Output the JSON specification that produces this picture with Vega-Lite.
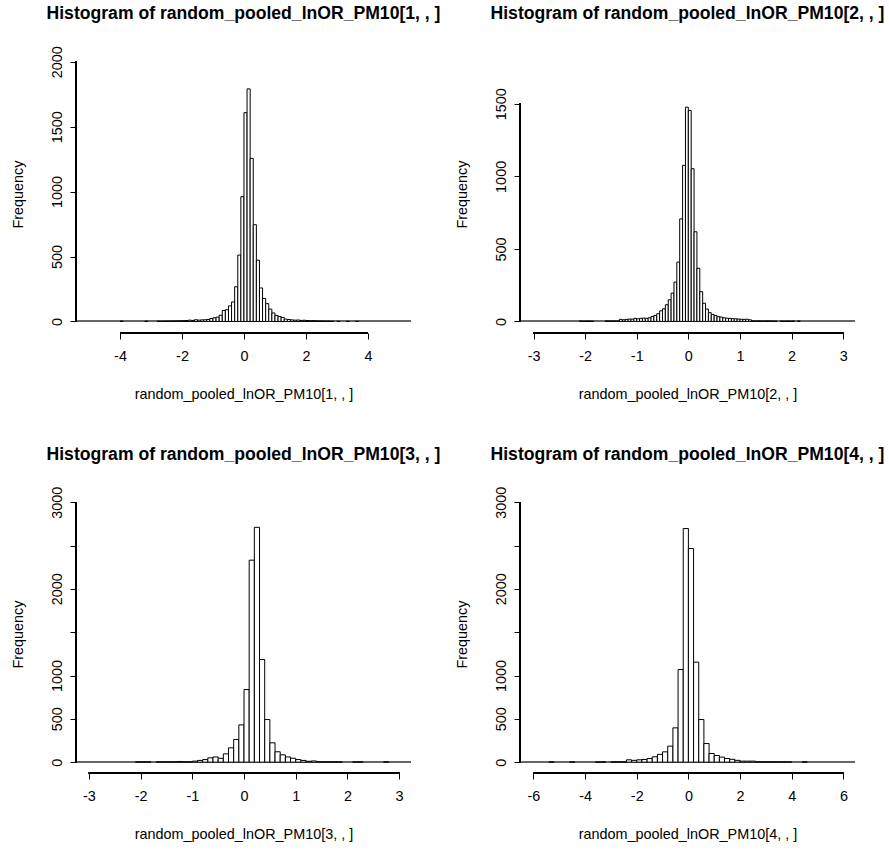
{
  "$schema": "https://vega.github.io/schema/vega-lite/v6.json",
  "background": "white",
  "padding": {"left": 10, "top": 4, "right": 2, "bottom": 5},
  "config": {
    "font": "Liberation Sans",
    "view": {"stroke": null},
    "axis": {"labelFont": "Liberation Sans", "labelFontSize": 14.4, "labelColor": "#000", "titleFont": "Liberation Sans", "titleFontSize": 14.4, "titleFontWeight": "normal", "titleColor": "#000", "tickColor": "#000", "tickSize": 6, "tickWidth": 1, "domain": false, "grid": false, "labelFlush": false, "labelOverlap": false},
    "title": {"font": "Liberation Sans", "fontSize": 17.6, "fontWeight": "bold", "color": "#000", "anchor": "middle", "frame": "group"}
  },
  "datasets": {
    "p1": [
      {"x0": -4.0, "x1": -3.9, "count": 2},
      {"x0": -3.2, "x1": -3.1, "count": 2},
      {"x0": -2.8, "x1": -2.7, "count": 2},
      {"x0": -2.7, "x1": -2.6, "count": 1},
      {"x0": -2.6, "x1": -2.5, "count": 2},
      {"x0": -2.5, "x1": -2.4, "count": 2},
      {"x0": -2.4, "x1": -2.3, "count": 3},
      {"x0": -2.3, "x1": -2.2, "count": 3},
      {"x0": -2.2, "x1": -2.1, "count": 4},
      {"x0": -2.1, "x1": -2.0, "count": 5},
      {"x0": -2.0, "x1": -1.9, "count": 5},
      {"x0": -1.9, "x1": -1.8, "count": 7},
      {"x0": -1.8, "x1": -1.7, "count": 10},
      {"x0": -1.7, "x1": -1.6, "count": 8},
      {"x0": -1.6, "x1": -1.5, "count": 13},
      {"x0": -1.5, "x1": -1.4, "count": 10},
      {"x0": -1.4, "x1": -1.3, "count": 12},
      {"x0": -1.3, "x1": -1.2, "count": 13},
      {"x0": -1.2, "x1": -1.1, "count": 15},
      {"x0": -1.1, "x1": -1.0, "count": 23},
      {"x0": -1.0, "x1": -0.9, "count": 28},
      {"x0": -0.9, "x1": -0.8, "count": 33},
      {"x0": -0.8, "x1": -0.7, "count": 48},
      {"x0": -0.7, "x1": -0.6, "count": 85},
      {"x0": -0.6, "x1": -0.5, "count": 90},
      {"x0": -0.5, "x1": -0.4, "count": 120},
      {"x0": -0.4, "x1": -0.3, "count": 150},
      {"x0": -0.3, "x1": -0.2, "count": 267},
      {"x0": -0.2, "x1": -0.1, "count": 511},
      {"x0": -0.1, "x1": 0.0, "count": 961},
      {"x0": 0.0, "x1": 0.1, "count": 1608},
      {"x0": 0.1, "x1": 0.2, "count": 1791},
      {"x0": 0.2, "x1": 0.3, "count": 1256},
      {"x0": 0.3, "x1": 0.4, "count": 745},
      {"x0": 0.4, "x1": 0.5, "count": 472},
      {"x0": 0.5, "x1": 0.6, "count": 258},
      {"x0": 0.6, "x1": 0.7, "count": 177},
      {"x0": 0.7, "x1": 0.8, "count": 137},
      {"x0": 0.8, "x1": 0.9, "count": 95},
      {"x0": 0.9, "x1": 1.0, "count": 65},
      {"x0": 1.0, "x1": 1.1, "count": 46},
      {"x0": 1.1, "x1": 1.2, "count": 38},
      {"x0": 1.2, "x1": 1.3, "count": 31},
      {"x0": 1.3, "x1": 1.4, "count": 18},
      {"x0": 1.4, "x1": 1.5, "count": 15},
      {"x0": 1.5, "x1": 1.6, "count": 12},
      {"x0": 1.6, "x1": 1.7, "count": 10},
      {"x0": 1.7, "x1": 1.8, "count": 11},
      {"x0": 1.8, "x1": 1.9, "count": 8},
      {"x0": 1.9, "x1": 2.0, "count": 9},
      {"x0": 2.0, "x1": 2.1, "count": 7},
      {"x0": 2.1, "x1": 2.2, "count": 5},
      {"x0": 2.2, "x1": 2.3, "count": 6},
      {"x0": 2.3, "x1": 2.4, "count": 4},
      {"x0": 2.4, "x1": 2.5, "count": 3},
      {"x0": 2.5, "x1": 2.6, "count": 3},
      {"x0": 2.6, "x1": 2.7, "count": 2},
      {"x0": 2.7, "x1": 2.8, "count": 2},
      {"x0": 2.8, "x1": 2.9, "count": 1},
      {"x0": 3.0, "x1": 3.1, "count": 1},
      {"x0": 3.3, "x1": 3.4, "count": 1},
      {"x0": 3.6, "x1": 3.7, "count": 1}
    ],
    "p2": [
      {"x0": -2.1128, "x1": -2.0572, "count": 2},
      {"x0": -2.0572, "x1": -2.0016, "count": 1},
      {"x0": -2.0016, "x1": -1.946, "count": 2},
      {"x0": -1.946, "x1": -1.8904, "count": 2},
      {"x0": -1.8904, "x1": -1.8348, "count": 1},
      {"x0": -1.6124, "x1": -1.5568, "count": 3},
      {"x0": -1.5568, "x1": -1.5012, "count": 2},
      {"x0": -1.5012, "x1": -1.4456, "count": 3},
      {"x0": -1.4456, "x1": -1.39, "count": 2},
      {"x0": -1.39, "x1": -1.3344, "count": 3},
      {"x0": -1.3344, "x1": -1.2788, "count": 14},
      {"x0": -1.2788, "x1": -1.2232, "count": 11},
      {"x0": -1.2232, "x1": -1.1676, "count": 14},
      {"x0": -1.1676, "x1": -1.112, "count": 16},
      {"x0": -1.112, "x1": -1.0564, "count": 16},
      {"x0": -1.0564, "x1": -1.0008, "count": 21},
      {"x0": -1.0008, "x1": -0.9452, "count": 18},
      {"x0": -0.9452, "x1": -0.8896, "count": 21},
      {"x0": -0.8896, "x1": -0.834, "count": 23},
      {"x0": -0.834, "x1": -0.7784, "count": 21},
      {"x0": -0.7784, "x1": -0.7228, "count": 25},
      {"x0": -0.7228, "x1": -0.6672, "count": 34},
      {"x0": -0.6672, "x1": -0.6116, "count": 41},
      {"x0": -0.6116, "x1": -0.556, "count": 53},
      {"x0": -0.556, "x1": -0.5004, "count": 73},
      {"x0": -0.5004, "x1": -0.4448, "count": 87},
      {"x0": -0.4448, "x1": -0.3892, "count": 115},
      {"x0": -0.3892, "x1": -0.3336, "count": 149},
      {"x0": -0.3336, "x1": -0.278, "count": 195},
      {"x0": -0.278, "x1": -0.2224, "count": 271},
      {"x0": -0.2224, "x1": -0.1668, "count": 409},
      {"x0": -0.1668, "x1": -0.1112, "count": 707},
      {"x0": -0.1112, "x1": -0.0556, "count": 1076},
      {"x0": -0.0556, "x1": 0.0, "count": 1477},
      {"x0": 0.0, "x1": 0.0556, "count": 1455},
      {"x0": 0.0556, "x1": 0.1112, "count": 1053},
      {"x0": 0.1112, "x1": 0.1668, "count": 618},
      {"x0": 0.1668, "x1": 0.2224, "count": 366},
      {"x0": 0.2224, "x1": 0.278, "count": 205},
      {"x0": 0.278, "x1": 0.3336, "count": 125},
      {"x0": 0.3336, "x1": 0.3892, "count": 85},
      {"x0": 0.3892, "x1": 0.4448, "count": 60},
      {"x0": 0.4448, "x1": 0.5004, "count": 48},
      {"x0": 0.5004, "x1": 0.556, "count": 40},
      {"x0": 0.556, "x1": 0.6116, "count": 33},
      {"x0": 0.6116, "x1": 0.6672, "count": 30},
      {"x0": 0.6672, "x1": 0.7228, "count": 25},
      {"x0": 0.7228, "x1": 0.7784, "count": 22},
      {"x0": 0.7784, "x1": 0.834, "count": 21},
      {"x0": 0.834, "x1": 0.8896, "count": 19},
      {"x0": 0.8896, "x1": 0.9452, "count": 18},
      {"x0": 0.9452, "x1": 1.0008, "count": 16},
      {"x0": 1.0008, "x1": 1.0564, "count": 15},
      {"x0": 1.0564, "x1": 1.112, "count": 14},
      {"x0": 1.112, "x1": 1.1676, "count": 15},
      {"x0": 1.1676, "x1": 1.2232, "count": 11},
      {"x0": 1.2232, "x1": 1.2788, "count": 3},
      {"x0": 1.2788, "x1": 1.3344, "count": 2},
      {"x0": 1.3344, "x1": 1.39, "count": 3},
      {"x0": 1.39, "x1": 1.4456, "count": 2},
      {"x0": 1.4456, "x1": 1.5012, "count": 2},
      {"x0": 1.5012, "x1": 1.5568, "count": 3},
      {"x0": 1.5568, "x1": 1.6124, "count": 2},
      {"x0": 1.6124, "x1": 1.668, "count": 2},
      {"x0": 1.668, "x1": 1.7236, "count": 1},
      {"x0": 1.7792, "x1": 1.8348, "count": 2},
      {"x0": 1.8348, "x1": 1.8904, "count": 1},
      {"x0": 1.8904, "x1": 1.946, "count": 2},
      {"x0": 1.946, "x1": 2.0016, "count": 1},
      {"x0": 2.0016, "x1": 2.0572, "count": 2},
      {"x0": 2.1128, "x1": 2.1684, "count": 2}
    ],
    "p3": [
      {"x0": -2.1, "x1": -2.0, "count": 3},
      {"x0": -2.0, "x1": -1.9, "count": 3},
      {"x0": -1.9, "x1": -1.8, "count": 3},
      {"x0": -1.7, "x1": -1.6, "count": 3},
      {"x0": -1.6, "x1": -1.5, "count": 3},
      {"x0": -1.5, "x1": -1.4, "count": 2},
      {"x0": -1.4, "x1": -1.3, "count": 3},
      {"x0": -1.3, "x1": -1.2, "count": 8},
      {"x0": -1.2, "x1": -1.1, "count": 3},
      {"x0": -1.1, "x1": -1.0, "count": 4},
      {"x0": -1.0, "x1": -0.9, "count": 12},
      {"x0": -0.9, "x1": -0.8, "count": 20},
      {"x0": -0.8, "x1": -0.7, "count": 30},
      {"x0": -0.7, "x1": -0.6, "count": 50},
      {"x0": -0.6, "x1": -0.5, "count": 60},
      {"x0": -0.5, "x1": -0.4, "count": 45},
      {"x0": -0.4, "x1": -0.3, "count": 96},
      {"x0": -0.3, "x1": -0.2, "count": 165},
      {"x0": -0.2, "x1": -0.1, "count": 262},
      {"x0": -0.1, "x1": 0.0, "count": 430},
      {"x0": 0.0, "x1": 0.1, "count": 838},
      {"x0": 0.1, "x1": 0.2, "count": 2331},
      {"x0": 0.2, "x1": 0.3, "count": 2710},
      {"x0": 0.3, "x1": 0.4, "count": 1185},
      {"x0": 0.4, "x1": 0.5, "count": 492},
      {"x0": 0.5, "x1": 0.6, "count": 223},
      {"x0": 0.6, "x1": 0.7, "count": 120},
      {"x0": 0.7, "x1": 0.8, "count": 85},
      {"x0": 0.8, "x1": 0.9, "count": 60},
      {"x0": 0.9, "x1": 1.0, "count": 45},
      {"x0": 1.0, "x1": 1.1, "count": 30},
      {"x0": 1.1, "x1": 1.2, "count": 20},
      {"x0": 1.2, "x1": 1.3, "count": 10},
      {"x0": 1.3, "x1": 1.4, "count": 14},
      {"x0": 1.4, "x1": 1.5, "count": 5},
      {"x0": 1.5, "x1": 1.6, "count": 4},
      {"x0": 1.6, "x1": 1.7, "count": 4},
      {"x0": 1.7, "x1": 1.8, "count": 3},
      {"x0": 1.8, "x1": 1.9, "count": 3},
      {"x0": 2.1, "x1": 2.2, "count": 3},
      {"x0": 2.2, "x1": 2.3, "count": 3},
      {"x0": 2.7, "x1": 2.8, "count": 4}
    ],
    "p4": [
      {"x0": -5.4, "x1": -5.2, "count": 2},
      {"x0": -4.6, "x1": -4.4, "count": 2},
      {"x0": -3.6, "x1": -3.4, "count": 1},
      {"x0": -3.4, "x1": -3.2, "count": 2},
      {"x0": -3.0, "x1": -2.8, "count": 2},
      {"x0": -2.8, "x1": -2.6, "count": 3},
      {"x0": -2.6, "x1": -2.4, "count": 3},
      {"x0": -2.4, "x1": -2.2, "count": 27},
      {"x0": -2.2, "x1": -2.0, "count": 21},
      {"x0": -2.0, "x1": -1.8, "count": 27},
      {"x0": -1.8, "x1": -1.6, "count": 31},
      {"x0": -1.6, "x1": -1.4, "count": 42},
      {"x0": -1.4, "x1": -1.2, "count": 62},
      {"x0": -1.2, "x1": -1.0, "count": 90},
      {"x0": -1.0, "x1": -0.8, "count": 119},
      {"x0": -0.8, "x1": -0.6, "count": 185},
      {"x0": -0.6, "x1": -0.4, "count": 396},
      {"x0": -0.4, "x1": -0.2, "count": 1069},
      {"x0": -0.2, "x1": 0.0, "count": 2696},
      {"x0": 0.0, "x1": 0.2, "count": 2465},
      {"x0": 0.2, "x1": 0.4, "count": 1154},
      {"x0": 0.4, "x1": 0.6, "count": 492},
      {"x0": 0.6, "x1": 0.8, "count": 215},
      {"x0": 0.8, "x1": 1.0, "count": 100},
      {"x0": 1.0, "x1": 1.2, "count": 77},
      {"x0": 1.2, "x1": 1.4, "count": 58},
      {"x0": 1.4, "x1": 1.6, "count": 42},
      {"x0": 1.6, "x1": 1.8, "count": 33},
      {"x0": 1.8, "x1": 2.0, "count": 21},
      {"x0": 2.0, "x1": 2.2, "count": 12},
      {"x0": 2.2, "x1": 2.4, "count": 12},
      {"x0": 2.4, "x1": 2.6, "count": 12},
      {"x0": 2.6, "x1": 2.8, "count": 3},
      {"x0": 2.8, "x1": 3.0, "count": 3},
      {"x0": 3.0, "x1": 3.2, "count": 3},
      {"x0": 3.2, "x1": 3.4, "count": 2},
      {"x0": 3.4, "x1": 3.6, "count": 3},
      {"x0": 3.6, "x1": 3.8, "count": 2},
      {"x0": 3.8, "x1": 4.0, "count": 3},
      {"x0": 4.4, "x1": 4.6, "count": 3}
    ]
  },
  "columns": 2,
  "spacing": {"row": 162, "column": 109},
  "bounds": "flush",
  "concat": [
    {
      "width": 335, "height": 278,
      "title": {"text": "Histogram of random_pooled_lnOR_PM10[1, , ]", "offset": 23.3},
      "data": {"name": "p1"},
      "layer": [
        {"mark": {"type": "rule", "color": "#666", "strokeWidth": 1}, "encoding": {"x": {"datum": -5.42}, "x2": {"datum": 5.39}, "y": {"datum": 0}}},
        {"mark": {"type": "bar", "fill": "white", "stroke": "#000", "strokeWidth": 1},
         "encoding": {
           "x": {"field": "x0", "type": "quantitative", "scale": {"domain": [-5.42, 5.39], "nice": false, "zero": false},
                 "axis": {"values": [-4, -2, 0, 2, 4], "title": "random_pooled_lnOR_PM10[1, , ]", "labelExpr": "'' + datum.value", "labelPadding": 10, "titlePadding": 25}},
           "x2": {"field": "x1"},
           "y": {"field": "count", "type": "quantitative", "scale": {"domain": [-89, 2052], "nice": false, "zero": false},
                 "axis": {"values": [0, 500, 1000, 1500, 2000], "labelExpr": "'' + datum.value", "title": "Frequency", "labelAngle": -90, "labelAlign": "center", "labelBaseline": "bottom", "labelPadding": 6, "titlePadding": 24}},
           "y2": {"datum": 0}
         }},
        {"mark": {"type": "rule", "color": "#000", "strokeWidth": 1}, "encoding": {"x": {"datum": -5.42}, "y": {"datum": 0}, "y2": {"datum": 2000}}},
        {"mark": {"type": "rule", "color": "#000", "strokeWidth": 1}, "encoding": {"x": {"datum": -4}, "x2": {"datum": 4}, "y": {"datum": -89}}}
      ]
    },
    {
      "width": 335, "height": 278,
      "title": {"text": "Histogram of random_pooled_lnOR_PM10[2, , ]", "offset": 32.6},
      "data": {"name": "p2"},
      "layer": [
        {"mark": {"type": "rule", "color": "#666", "strokeWidth": 1}, "encoding": {"x": {"datum": -3.262}, "x2": {"datum": 3.23}, "y": {"datum": 0}}},
        {"mark": {"type": "bar", "fill": "white", "stroke": "#000", "strokeWidth": 1},
         "encoding": {
           "x": {"field": "x0", "type": "quantitative", "scale": {"domain": [-3.262, 3.23], "nice": false, "zero": false},
                 "axis": {"values": [-3, -2, -1, 0, 1, 2, 3], "title": "random_pooled_lnOR_PM10[2, , ]", "labelExpr": "'' + datum.value", "labelPadding": 10, "titlePadding": 25}},
           "x2": {"field": "x1"},
           "y": {"field": "count", "type": "quantitative", "scale": {"domain": [-80, 1837], "nice": false, "zero": false},
                 "axis": {"values": [0, 500, 1000, 1500], "labelExpr": "'' + datum.value", "title": "Frequency", "labelAngle": -90, "labelAlign": "center", "labelBaseline": "bottom", "labelPadding": 6, "titlePadding": 24}},
           "y2": {"datum": 0}
         }},
        {"mark": {"type": "rule", "color": "#000", "strokeWidth": 1}, "encoding": {"x": {"datum": -3.262}, "y": {"datum": 0}, "y2": {"datum": 1500}}},
        {"mark": {"type": "rule", "color": "#000", "strokeWidth": 1}, "encoding": {"x": {"datum": -3}, "x2": {"datum": 3}, "y": {"datum": -80}}}
      ]
    },
    {
      "width": 335, "height": 278,
      "title": {"text": "Histogram of random_pooled_lnOR_PM10[3, , ]", "offset": 22.3},
      "data": {"name": "p3"},
      "layer": [
        {"mark": {"type": "rule", "color": "#666", "strokeWidth": 1}, "encoding": {"x": {"datum": -3.25}, "x2": {"datum": 3.23}, "y": {"datum": 0}}},
        {"mark": {"type": "bar", "fill": "white", "stroke": "#000", "strokeWidth": 1},
         "encoding": {
           "x": {"field": "x0", "type": "quantitative", "scale": {"domain": [-3.25, 3.23], "nice": false, "zero": false},
                 "axis": {"values": [-3, -2, -1, 0, 1, 2, 3], "title": "random_pooled_lnOR_PM10[3, , ]", "labelExpr": "'' + datum.value", "labelPadding": 10, "titlePadding": 25}},
           "x2": {"field": "x1"},
           "y": {"field": "count", "type": "quantitative", "scale": {"domain": [-125, 3083], "nice": false, "zero": false},
                 "axis": {"values": [0, 500, 1000, 1500, 2000, 2500, 3000], "labelExpr": "datum.value == 1500 || datum.value == 2500 ? '' : '' + datum.value", "title": "Frequency", "labelAngle": -90, "labelAlign": "center", "labelBaseline": "bottom", "labelPadding": 6, "titlePadding": 24}},
           "y2": {"datum": 0}
         }},
        {"mark": {"type": "rule", "color": "#000", "strokeWidth": 1}, "encoding": {"x": {"datum": -3.25}, "y": {"datum": 0}, "y2": {"datum": 3000}}},
        {"mark": {"type": "rule", "color": "#000", "strokeWidth": 1}, "encoding": {"x": {"datum": -3}, "x2": {"datum": 3}, "y": {"datum": -125}}}
      ]
    },
    {
      "width": 335, "height": 278,
      "title": {"text": "Histogram of random_pooled_lnOR_PM10[4, , ]", "offset": 22.3},
      "data": {"name": "p4"},
      "layer": [
        {"mark": {"type": "rule", "color": "#666", "strokeWidth": 1}, "encoding": {"x": {"datum": -6.52}, "x2": {"datum": 6.45}, "y": {"datum": 0}}},
        {"mark": {"type": "bar", "fill": "white", "stroke": "#000", "strokeWidth": 1},
         "encoding": {
           "x": {"field": "x0", "type": "quantitative", "scale": {"domain": [-6.52, 6.45], "nice": false, "zero": false},
                 "axis": {"values": [-6, -4, -2, 0, 2, 4, 6], "title": "random_pooled_lnOR_PM10[4, , ]", "labelExpr": "'' + datum.value", "labelPadding": 10, "titlePadding": 25}},
           "x2": {"field": "x1"},
           "y": {"field": "count", "type": "quantitative", "scale": {"domain": [-125, 3083], "nice": false, "zero": false},
                 "axis": {"values": [0, 500, 1000, 1500, 2000, 2500, 3000], "labelExpr": "datum.value == 1500 || datum.value == 2500 ? '' : '' + datum.value", "title": "Frequency", "labelAngle": -90, "labelAlign": "center", "labelBaseline": "bottom", "labelPadding": 6, "titlePadding": 24}},
           "y2": {"datum": 0}
         }},
        {"mark": {"type": "rule", "color": "#000", "strokeWidth": 1}, "encoding": {"x": {"datum": -6.52}, "y": {"datum": 0}, "y2": {"datum": 3000}}},
        {"mark": {"type": "rule", "color": "#000", "strokeWidth": 1}, "encoding": {"x": {"datum": -6}, "x2": {"datum": 6}, "y": {"datum": -125}}}
      ]
    }
  ]
}
